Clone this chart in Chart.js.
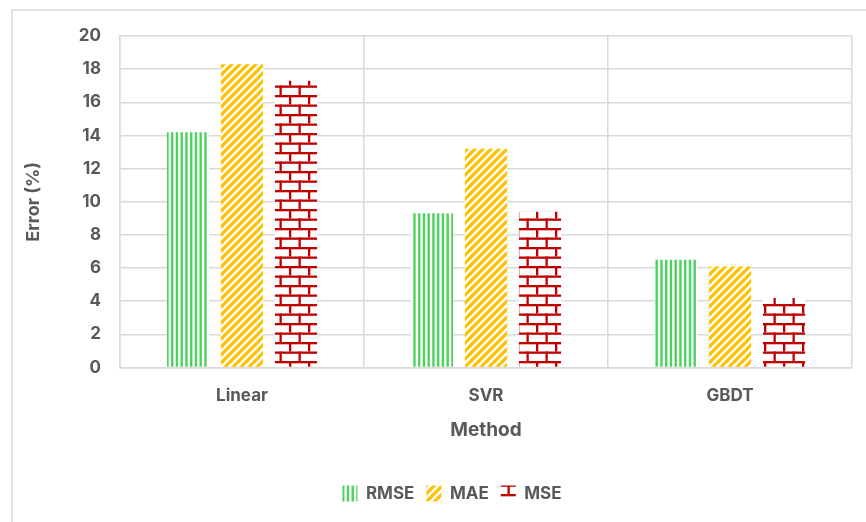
<!DOCTYPE html>
<html>
<head>
<meta charset="utf-8">
<script src="https://cdn.jsdelivr.net/npm/chart.js@4"></script>
<style>
  html, body { margin: 0; padding: 0; background: #ffffff; }
  #wrap { width: 866px; height: 522px; }
</style>
</head>
<body>
<div id="wrap"><canvas id="chart" width="866" height="522"></canvas></div>
<script>
// Error of each regression method, by metric
const methods = ['Linear', 'SVR', 'GBDT'];
const rmse = [14.2, 9.3, 6.5];
const mae = [18.3, 13.2, 6.1];
const mse = [17.3, 9.4, 4.2];
const yTicks = [0, 2, 4, 6, 8, 10, 12, 14, 16, 18, 20];

const TEXT = '#595959';
const GRID = '#d9d9d9';
const FONT = 'Inter, Roboto, sans-serif';

function tile(w, h, paint) {
  const c = document.createElement('canvas');
  c.width = w; c.height = h;
  const g = c.getContext('2d');
  g.fillStyle = '#ffffff';
  g.fillRect(0, 0, w, h);
  paint(g);
  return c;
}

const ctx = document.getElementById('chart').getContext('2d');

// vertical green stripes
const stripeTile = tile(19, 4, g => {
  g.fillStyle = '#4dd25c';
  for (let i = 0; i < 4; i++) g.fillRect(i * 4.75, 0, 2.4, 4);
});
// upward diagonal gold stripes
const diagTile = tile(8, 8, g => {
  g.strokeStyle = '#ffc000';
  g.lineWidth = 3.2;
  for (let x0 = -8; x0 <= 8; x0 += 8) {
    g.beginPath();
    g.moveTo(x0 - 1, 9);
    g.lineTo(x0 + 9, -1);
    g.stroke();
  }
});
// red brick
const brickTile = tile(19, 19, g => {
  g.fillStyle = '#c00000';
  g.fillRect(0, 0, 19, 2.3);
  g.fillRect(0, 9.5, 19, 2.3);
  g.fillRect(4, 0, 2.3, 9.5);
  g.fillRect(13.5, 9.5, 2.3, 9.5);
});

const pRmse = ctx.createPattern(stripeTile, 'repeat');
const pMae = ctx.createPattern(diagTile, 'repeat');
const pMse = ctx.createPattern(brickTile, 'repeat');

// white page with the light frame round the chart
const framePlugin = {
  id: 'frame',
  beforeDraw(chart) {
    const c = chart.ctx;
    c.save();
    c.fillStyle = '#ffffff';
    c.fillRect(0, 0, chart.width, chart.height);
    c.strokeStyle = GRID;
    c.lineWidth = 1.5;
    c.strokeRect(12, 10, chart.width + 20, chart.height + 20);
    c.restore();
  }
};

// centre the legend row under the frame rather than the canvas
const legendShift = {
  id: 'legendShift',
  afterLayout(chart) {
    chart.legend.left += 20;
    chart.legend.right += 20;
  }
};

new Chart(ctx, {
  type: 'bar',
  data: {
    labels: methods,
    datasets: [
      { label: 'RMSE', data: rmse, backgroundColor: pRmse, borderWidth: 0 },
      { label: 'MAE', data: mae, backgroundColor: pMae, borderWidth: 0 },
      { label: 'MSE', data: mse, backgroundColor: pMse, borderWidth: 0 }
    ]
  },
  options: {
    responsive: false,
    animation: false,
    devicePixelRatio: 1,
    layout: { padding: { left: 12, right: 14, top: 36, bottom: 10 } },
    datasets: { bar: { categoryPercentage: 0.664, barPercentage: 0.78 } },
    plugins: {
      tooltip: { enabled: false },
      legend: {
        position: 'bottom',
        labels: {
          boxWidth: 15,
          boxHeight: 16,
          padding: 12,
          color: TEXT,
          font: { family: FONT, size: 17, weight: 'bold' }
        }
      }
    },
    scales: {
      x: {
        afterFit(s) { s.height = 105.5; },
        grid: { offset: true, color: GRID, lineWidth: 1.5, drawTicks: false },
        border: { color: GRID, width: 1.5 },
        ticks: { color: TEXT, padding: 18, font: { family: FONT, size: 17, weight: 'bold' } },
        title: {
          display: true, text: 'Method', color: TEXT,
          padding: { top: 0, bottom: 31 },
          font: { family: FONT, size: 19, weight: 'bold' }
        }
      },
      y: {
        min: 0, max: 20,
        afterFit(s) { s.width = 108; },
        afterBuildTicks(s) { s.ticks = yTicks.map(v => ({ value: v })); },
        grid: { color: GRID, lineWidth: 1.5, drawTicks: false },
        border: { color: GRID, width: 1.5 },
        ticks: { color: TEXT, padding: 19, font: { family: FONT, size: 17, weight: 'bold' } },
        title: {
          display: true, text: 'Error (%)', color: TEXT,
          padding: { top: 11, bottom: 0 },
          font: { family: FONT, size: 18, weight: 'bold' }
        }
      }
    }
  },
  plugins: [framePlugin, legendShift]
});
</script>
</body>
</html>
